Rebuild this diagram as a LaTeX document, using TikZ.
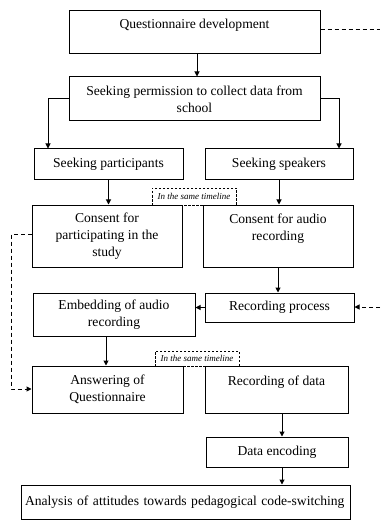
\documentclass[tikz,border=0pt]{standalone}
\usepackage{fontspec}
\setmainfont{Liberation Serif}
\usetikzlibrary{arrows.meta,calc}
\begin{document}
\begin{tikzpicture}[x=1pt,y=-1pt,
  box/.style={draw,line width=1pt,rectangle,inner sep=0pt,align=center,
    font=\fontsize{13.6}{17}\selectfont},
  tlbox/.style={draw,line width=0.8pt,dash pattern=on 2.5pt off 1.5pt,inner sep=0pt,
    font=\fontsize{9}{10}\selectfont\itshape},
  arr/.style={line width=1pt,-{Triangle[length=5pt,width=5pt]}},
  darr/.style={line width=1pt,dash pattern=on 4pt off 3pt,-{Triangle[length=5pt,width=5pt]}},
  dline/.style={line width=1pt,dash pattern=on 4pt off 3pt}]
\useasboundingbox (0,0) rectangle (380,521);
\node[box,minimum width=251pt,minimum height=43pt] (qd) at (194.5,32.5) {Questionnaire development\\~};
\node[box,minimum width=251pt,minimum height=44pt] (sp) at (194.5,99) {Seeking permission to collect data from\\school};
\node[box,minimum width=149pt,minimum height=31pt] (spart) at (108.5,164.5) {Seeking participants};
\node[box,minimum width=148pt,minimum height=31pt] (sspk) at (279,164.5) {Seeking speakers};
\node[box,minimum width=150pt,minimum height=62pt] (cp) at (107,236) {Consent for\\participating in the\\study};
\node[box,minimum width=150pt,minimum height=62pt] (ca) at (278,236) {Consent for audio\\recording\\~};
\node[box,minimum width=162pt,minimum height=43pt] (emb) at (114,314.5) {Embedding of audio\\recording};
\node[box,minimum width=149pt,minimum height=29pt] (rp) at (279.5,307.5) {Recording process};
\node[box,minimum width=151pt,minimum height=47pt] (ans) at (107.5,389.5) {Answering of\\Questionnaire};
\node[box,minimum width=143pt,minimum height=47pt] (rd) at (276.5,389.5) {Recording of data\\~};
\node[box,minimum width=142pt,minimum height=30pt] (de) at (277,452) {Data encoding};
\node[box,minimum height=34pt,text width=321pt,inner xsep=4pt,align=left] (an) at (185.5,502) {Analysis of attitudes towards pedagogical code-switching};
\node[tlbox,minimum width=84pt,minimum height=17pt] (tl1) at (194,196.5) {In the same timeline};
\node[tlbox,minimum width=84pt,minimum height=15pt] (tl2) at (197,358.5) {In the same timeline};
\coordinate (r1) at (380,30);
\coordinate (r2) at (380,307);
\coordinate (l1) at (11,234);
\coordinate (l2) at (11,389);
\coordinate (xa) at (197,0);
\coordinate (xb) at (48,0);
\coordinate (xc) at (339,0);
\coordinate (xd) at (106,0);
\coordinate (xe) at (282,0);
% connectors
\draw[arr] (qd.south -| xa) -- (sp.north -| xa);
\draw[arr] (sp.west) -| (spart.north -| xb);
\draw[arr] (sp.east) -| (sspk.north -| xc);
\draw[arr] (spart.south) -- (spart.south |- cp.north);
\draw[arr] (sspk.south) -- (sspk.south |- ca.north);
\draw[arr] (ca.south) -- (ca.south |- rp.north);
\draw[arr] (rp.west) -- (rp.west -| emb.east);
\draw[arr] (emb.south -| xd) -- (ans.north -| xd);
\draw[arr] (rd.south -| xe) -- (de.north -| xe);
\draw[arr] (de.south -| xe) -- (an.north -| xe);
\draw[dline] (qd.east |- r1) -- (r1);
\draw[darr] (r2) -- (rp.east |- r2);
\draw[darr] (cp.west |- l1) -- (l1) -- (l2) -- (ans.west |- l2);
\end{tikzpicture}
\end{document}
